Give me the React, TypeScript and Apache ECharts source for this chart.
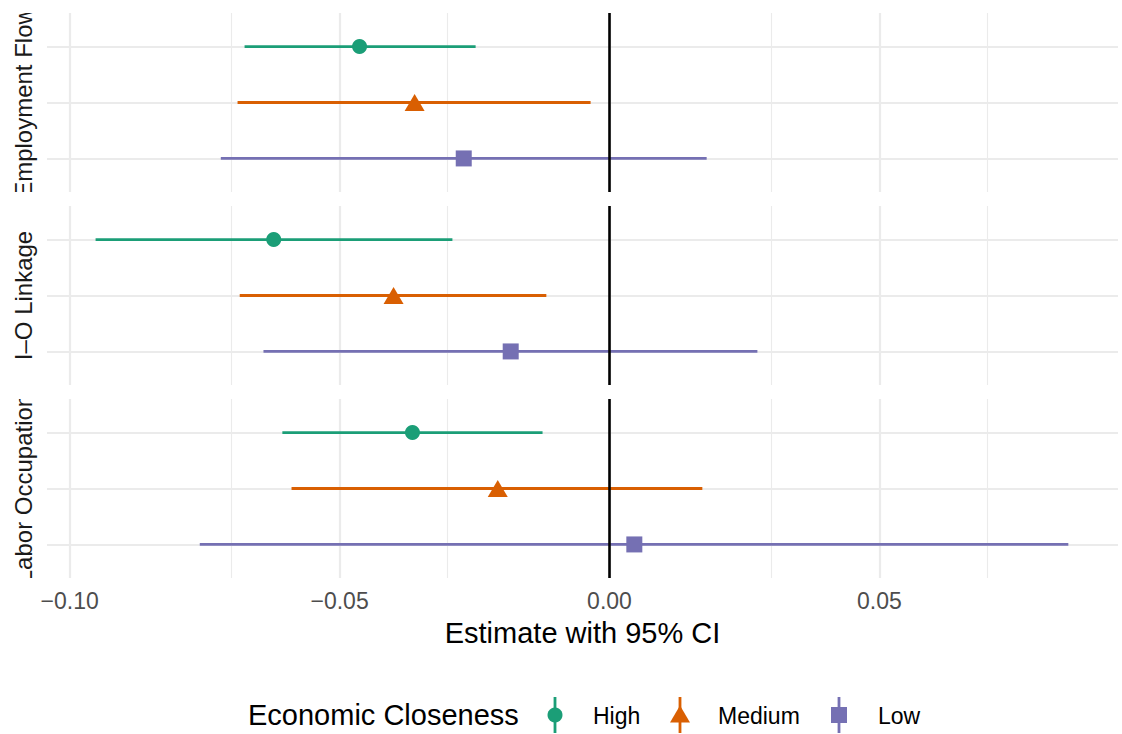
import { useEffect, useRef } from "react";
import * as echarts from "echarts";

// Facets (top to bottom) and closeness levels
const facets = ["Employment Flow", "I\u2013O Linkage", "Labor Occupation"];
const levels = ["High", "Medium", "Low"];
const levelColors = ["#1B9E77", "#D95F02", "#7570B3"];
const levelSymbols = ["circle", "triangle", "rect"];
const levelSymbolSizes: any[] = [15, [20, 17], 16];
// row position inside a facet: High on top, Low at the bottom
const levelRows = [3, 2, 1];

// Point estimates and 95% CI bounds, one entry per facet
const highEst = [-0.0463, -0.0622, -0.0365];
const highLo = [-0.0676, -0.0952, -0.0606];
const highHi = [-0.0248, -0.0291, -0.0124];
const mediumEst = [-0.0361, -0.04, -0.0207];
const mediumLo = [-0.0689, -0.0685, -0.0589];
const mediumHi = [-0.0035, -0.0117, 0.0172];
const lowEst = [-0.027, -0.0183, 0.0046];
const lowLo = [-0.072, -0.0641, -0.0759];
const lowHi = [0.018, 0.0274, 0.085];

const estByLevel = [highEst, mediumEst, lowEst];
const loByLevel = [highLo, mediumLo, lowLo];
const hiByLevel = [highHi, mediumHi, lowHi];

// x scale and tick values
const xMin = -0.1042;
const xMax = 0.0942;
const majorTicks = [-0.1, -0.05, 0, 0.05];
const minorTicks = [-0.075, -0.025, 0.025, 0.075];
const rowLines = [1, 2, 3];

const FONT = "'Liberation Sans', Arial, Helvetica, sans-serif";
const W = 1122;
const H = 734;
const GRID_LEFT = 47;
const GRID_WIDTH = 1071;
const GRID_TOPS = [13, 206, 399];
const GRID_HEIGHT = 179;
const GRID_LINE = "#EBEBEB";

const fmt = (v: number) => (v < 0 ? "\u2212" : "") + Math.abs(v).toFixed(2);

function buildOption() {
  const grids = GRID_TOPS.map((top) => ({
    left: GRID_LEFT,
    top,
    width: GRID_WIDTH,
    height: GRID_HEIGHT,
    containLabel: false,
  }));

  const xAxes = facets.map((_, f) => {
    const bottom = f === facets.length - 1;
    return {
      type: "value",
      gridIndex: f,
      min: xMin,
      max: xMax,
      axisLine: { show: false },
      axisTick: { show: false },
      splitLine: { show: false },
      axisLabel: bottom
        ? {
            show: true,
            customValues: majorTicks,
            formatter: fmt,
            color: "#4D4D4D",
            fontSize: 23,
            fontFamily: FONT,
            margin: 11,
          }
        : { show: false },
      name: bottom ? "Estimate with 95% CI" : "",
      nameLocation: "middle",
      nameGap: 40,
      nameTextStyle: { color: "#000000", fontSize: 29, fontFamily: FONT },
    };
  });

  const yAxes = facets.map((_, f) => ({
    type: "value",
    gridIndex: f,
    min: 0.4,
    max: 3.6,
    show: false,
    splitLine: { show: false },
  }));

  const series: any[] = [];
  facets.forEach((_, f) => {
    // panel grid lines
    series.push({
      type: "scatter",
      xAxisIndex: f,
      yAxisIndex: f,
      data: [],
      silent: true,
      z: 1,
      markLine: {
        z: 1,
        silent: true,
        symbol: "none",
        animation: false,
        label: { show: false },
        emphasis: { disabled: true },
        data: [
          ...minorTicks.map((v) => ({ xAxis: v, lineStyle: { color: GRID_LINE, width: 1.1, type: "solid" } })),
          ...majorTicks.map((v) => ({ xAxis: v, lineStyle: { color: GRID_LINE, width: 2.2, type: "solid" } })),
          ...rowLines.map((v) => ({ yAxis: v, lineStyle: { color: GRID_LINE, width: 2.2, type: "solid" } })),
        ],
      },
    });
    levels.forEach((lvl, l) => {
      const color = levelColors[l];
      const row = levelRows[l];
      // confidence interval segment
      series.push({
        type: "line",
        name: lvl,
        xAxisIndex: f,
        yAxisIndex: f,
        z: 3,
        silent: true,
        symbol: "none",
        showSymbol: false,
        lineStyle: { color, width: 2.8, opacity: 1 },
        itemStyle: { color },
        emphasis: { disabled: true },
        data: [
          [loByLevel[l][f], row],
          [hiByLevel[l][f], row],
        ],
      });
      // point estimate
      series.push({
        type: "scatter",
        name: lvl,
        xAxisIndex: f,
        yAxisIndex: f,
        z: 9,
        symbol: levelSymbols[l],
        symbolSize: levelSymbolSizes[l],
        itemStyle: { color, opacity: 1 },
        emphasis: { disabled: true },
        data: [[estByLevel[l][f], row]],
      });
    });
    // zero reference line
    series.push({
      type: "scatter",
      xAxisIndex: f,
      yAxisIndex: f,
      data: [],
      silent: true,
      z: 6,
      markLine: {
        z: 6,
        silent: true,
        symbol: "none",
        animation: false,
        label: { show: false },
        emphasis: { disabled: true },
        data: [{ xAxis: 0, lineStyle: { color: "#000000", width: 2.6, type: "solid" } }],
      },
    });
  });

  // strip labels (rotated, clipped to panel height by white masks)
  const graphic: any[] = [];
  facets.forEach((name, f) => {
    graphic.push({
      type: "text",
      x: 23,
      y: GRID_TOPS[f] + GRID_HEIGHT / 2,
      rotation: Math.PI / 2,
      z: 10,
      style: {
        text: name,
        fill: "#1A1A1A",
        font: `24px ${FONT}`,
        textAlign: "center",
        textVerticalAlign: "middle",
      },
    });
  });
  const masks: [number, number][] = [
    [0, GRID_TOPS[0]],
    [GRID_TOPS[0] + GRID_HEIGHT, GRID_TOPS[1]],
    [GRID_TOPS[1] + GRID_HEIGHT, GRID_TOPS[2]],
    [GRID_TOPS[2] + GRID_HEIGHT, GRID_TOPS[2] + GRID_HEIGHT + 12],
  ];
  masks.forEach(([y0, y1]) => {
    graphic.push({
      type: "rect",
      z: 20,
      shape: { x: 0, y: y0, width: 42, height: y1 - y0 },
      style: { fill: "#FFFFFF" },
    });
  });

  // legend
  const legendY = 715;
  graphic.push({
    type: "text",
    x: 248,
    y: legendY,
    z: 10,
    style: {
      text: "Economic Closeness",
      fill: "#000000",
      font: `29px ${FONT}`,
      textAlign: "left",
      textVerticalAlign: "middle",
    },
  });
  const keyX = [555, 680, 839];
  const keyTextX = [593, 718, 878];
  levels.forEach((lvl, l) => {
    const cx = keyX[l];
    const color = levelColors[l];
    graphic.push({
      type: "line",
      z: 10,
      shape: { x1: cx, y1: legendY - 18, x2: cx, y2: legendY + 18 },
      style: { stroke: color, lineWidth: 2.8 },
    });
    if (l === 0) {
      graphic.push({ type: "circle", z: 11, shape: { cx, cy: legendY, r: 7.5 }, style: { fill: color } });
    } else if (l === 1) {
      graphic.push({
        type: "polygon",
        z: 11,
        shape: { points: [[cx, legendY - 9.5], [cx + 10, legendY + 7.5], [cx - 10, legendY + 7.5]] },
        style: { fill: color },
      });
    } else {
      graphic.push({
        type: "rect",
        z: 11,
        shape: { x: cx - 8, y: legendY - 8, width: 16, height: 16 },
        style: { fill: color },
      });
    }
    graphic.push({
      type: "text",
      x: keyTextX[l],
      y: legendY + 1,
      z: 10,
      style: {
        text: lvl,
        fill: "#000000",
        font: `23px ${FONT}`,
        textAlign: "left",
        textVerticalAlign: "middle",
      },
    });
  });

  return {
    animation: false,
    backgroundColor: "#FFFFFF",
    grid: grids,
    xAxis: xAxes,
    yAxis: yAxes,
    series,
    graphic,
  };
}

export default function App() {
  const ref = useRef<HTMLDivElement>(null);
  useEffect(() => {
    if (!ref.current) return;
    const chart = echarts.init(ref.current, undefined, { renderer: "svg" });
    chart.setOption(buildOption() as any);
    return () => chart.dispose();
  }, []);
  return (
    <div
      ref={ref}
      style={{ position: "fixed", left: 0, top: 0, width: W, height: H, background: "#FFFFFF" }}
    />
  );
}
